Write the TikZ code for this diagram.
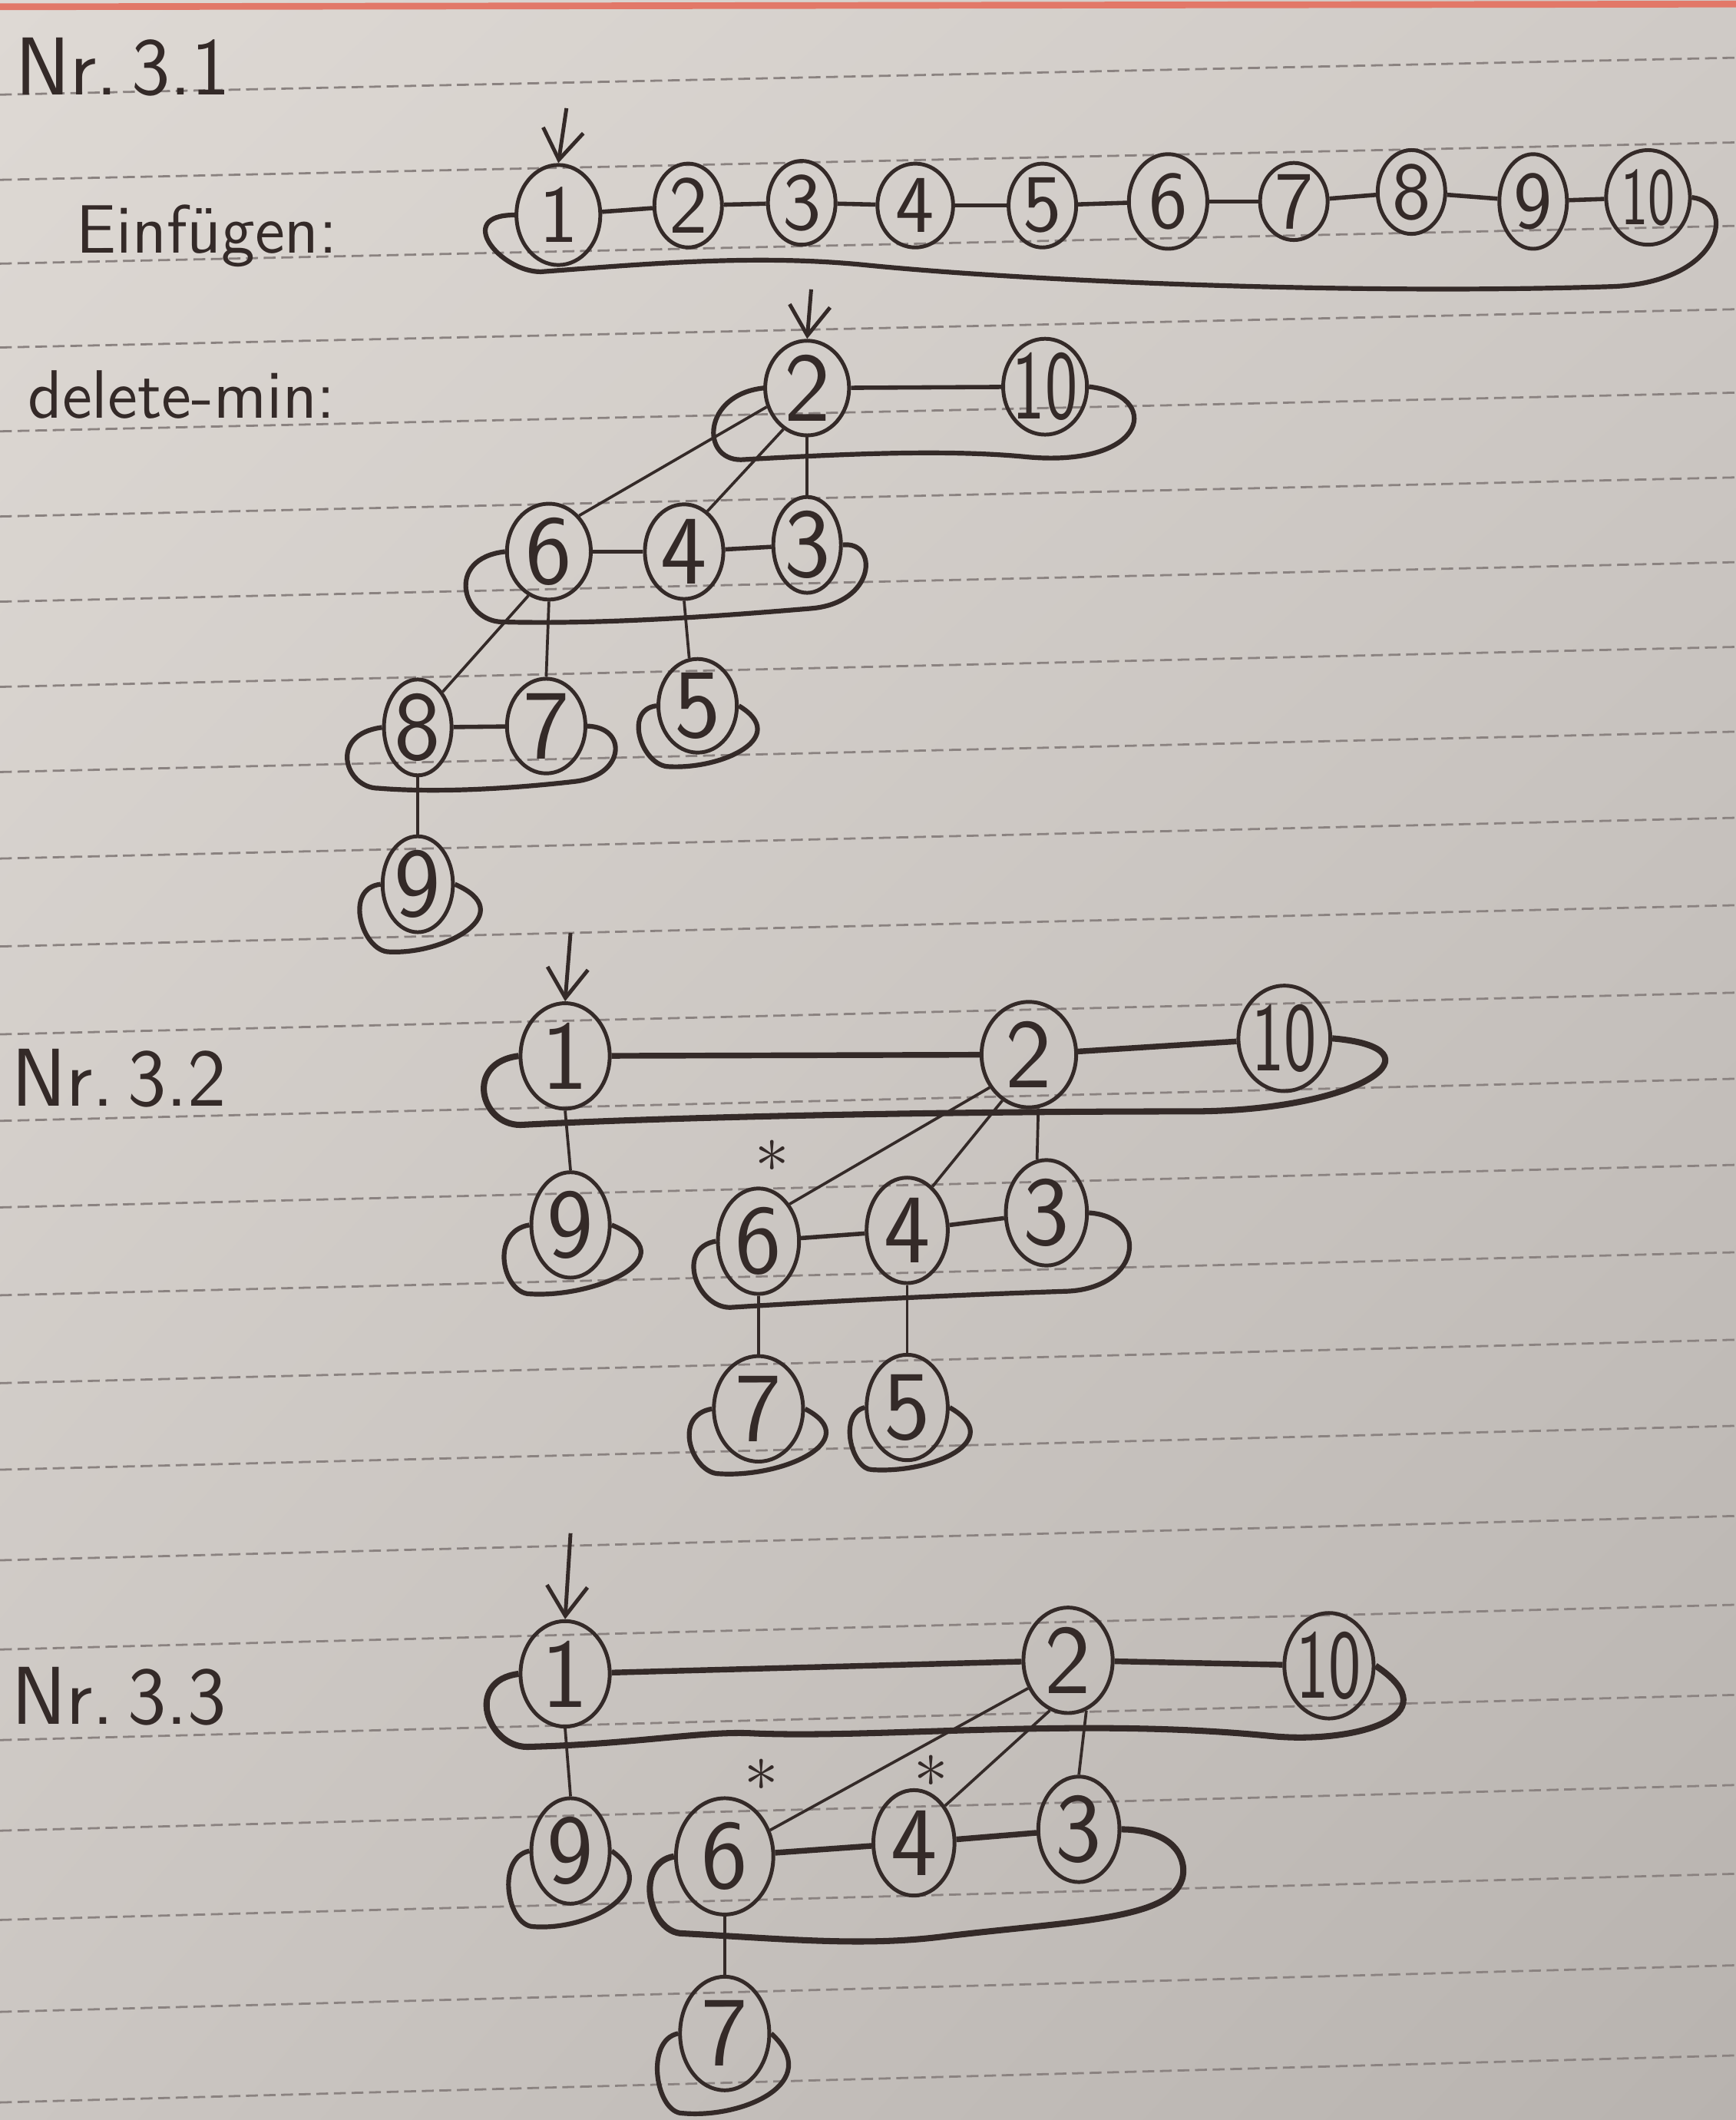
\documentclass[tikz,border=0pt]{standalone}
\usepackage{xcolor}
\usepackage{graphicx}
\usetikzlibrary{shapes.geometric,arrows.meta,shadings}

\definecolor{ink}{RGB}{52,42,40}
\definecolor{paperA}{RGB}{222,217,212}
\definecolor{paperB}{RGB}{207,202,198}
\definecolor{paperC}{RGB}{203,198,194}
\definecolor{paperD}{RGB}{184,179,175}
\definecolor{rule}{RGB}{138,130,128}
\definecolor{margin}{RGB}{226,120,104}

\tikzset{
  knot/.style={ellipse, draw=ink, line width=0.8pt, inner sep=0pt, minimum width=5.0mm, minimum height=6.2mm, font=\LARGE\sffamily, text=ink},
  knotb/.style={knot, minimum width=5.8mm, minimum height=7.0mm, font=\huge\sffamily},
  knotc/.style={knot, minimum width=6.6mm, minimum height=7.8mm, font=\huge\sffamily},
  ring/.style={draw=ink, line width=1pt, line join=round},
  ringb/.style={ring, line width=1.3pt},
  link/.style={draw=ink, line width=0.9pt},
  linkb/.style={draw=ink, line width=1.2pt},
  child/.style={draw=ink, line width=0.6pt},
  minptr/.style={draw=ink, line width=0.8pt, -{Straight Barb[length=2.2mm,width=3mm]}},
  hand/.style={text=ink, font=\Large\sffamily, inner sep=0pt},
  flag/.style={text=ink, font=\Large, inner sep=0pt}
}

\begin{document}
\begin{tikzpicture}[x=0.1mm, y=-0.1mm]
    % paper
    \shade[upper left=paperA, upper right=paperB, lower left=paperC, lower right=paperD] (0,0) rectangle (1284,1568);
    \useasboundingbox (0,0) rectangle (1284,1568);
    \draw[margin, line width=1.4pt] (0,5) -- (1284,3);
    \foreach \y in {70,133,195,257,319,382,445,508,571,635,700,765,829,893,958,1023,1087,1154,1220,1287,1354,1420,1488,1555}
        \draw[rule, line width=0.45pt, dash pattern=on 2.5pt off 1.2pt] (0,\y) -- (1284,{\y-27-0.005*\y});

    % Nr. 3.1
    \node[hand, font=\LARGE\sffamily, anchor=base west] (t1) at (11,70) {Nr.\,3.1};
    \node[hand, anchor=base west] (t2) at (56,187) {Einfügen:};
    \node[knot, minimum width=6.2mm, minimum height=7.4mm] (a1) at (413,159) {1};
    \node[knot] (a2) at (509,152) {2};
    \node[knot] (a3) at (593,150) {3};
    \node[knot, minimum width=5.6mm] (a4) at (677,152) {4};
    \node[knot] (a5) at (771,152) {5};
    \node[knot, minimum width=5.8mm, minimum height=7.0mm] (a6) at (864,149) {6};
    \node[knot, minimum height=5.4mm] (a7) at (957,149) {7};
    \node[knot] (a8) at (1044,142) {8};
    \node[knot, minimum height=7.0mm] (a9) at (1134,149) {9};
    \node[knot, inner xsep=-1mm, minimum width=6.2mm, minimum height=7.0mm] (a10) at (1219,146) {\scalebox{0.7}[1]{10}};
    \coordinate (p1) at (419,80);
    \draw[minptr] (p1) -- (a1.north);
    \draw[link] (a1) -- (a2);
    \draw[link] (a2) -- (a3);
    \draw[link] (a3) -- (a4);
    \draw[link] (a4) -- (a5);
    \draw[link] (a5) -- (a6);
    \draw[link] (a6) -- (a7);
    \draw[link] (a7) -- (a8);
    \draw[link] (a8) -- (a9);
    \draw[link] (a9) -- (a10);
    \draw[ring] (a1.west) .. controls +(-45,0) and +(-30,0) .. (400,201) .. controls (480,195) and (560,188) .. (640,196) .. controls (760,208) and (1000,218) .. (1190,212) .. controls (1275,210) and (1285,150) .. (a10.east);

    % delete-min
    \node[hand, anchor=base west] (t3) at (20,309) {delete-min:};
    \node[knotb, minimum width=6.2mm] (b2) at (597,287) {2};
    \node[knotb, inner xsep=-1mm, minimum width=6.2mm] (b10) at (773,286) {\scalebox{0.7}[1]{10}};
    \node[knotb, minimum width=6.2mm] (b6) at (406,408) {6};
    \node[knotb] (b4) at (506,408) {4};
    \node[knotb, minimum width=5.0mm, minimum height=6.2mm] (b3) at (597,403) {3};
    \node[knotb, minimum width=5.0mm] (b8) at (309,538) {8};
    \node[knotb] (b7) at (404,537) {7};
    \node[knotb, minimum height=6.6mm] (b5) at (516,522) {5};
    \node[knotb, minimum width=5.2mm] (b9) at (309,654) {9};
    \coordinate (p2) at (600,214);
    \draw[minptr] (p2) -- (b2.north);
    \draw[link] (b2) -- (b10);
    \draw[child] (b2.205) -- (b6.50);
    \draw[child] (b2.240) -- (b4.60);
    \draw[child] (b2.south) -- (b3.north);
    \draw[link] (b6) -- (b4);
    \draw[link] (b4) -- (b3);
    \draw[child] (b6.245) -- (b8.55);
    \draw[child] (b6.south) -- (b7.north);
    \draw[child] (b4.south) -- (b5.100);
    \draw[link] (b8) -- (b7);
    \draw[child] (b8.south) -- (b9.north);
    \draw[ring] (b2.west) .. controls +(-45,5) and +(-30,0) .. (548,340) .. controls (620,336) and (700,332) .. (760,338) .. controls (850,346) and (860,292) .. (b10.east);
    \draw[ring] (b6.west) .. controls +(-45,5) and +(-30,0) .. (372,460) .. controls (450,462) and (540,455) .. (600,450) .. controls (648,446) and (650,400) .. (b3.east);
    \draw[ring] (b8.west) .. controls +(-40,5) and +(-25,0) .. (280,583) .. controls (330,587) and (390,582) .. (425,578) .. controls (462,574) and (465,538) .. (b7.east);
    \draw[ring] (b5.west) .. controls +(-25,3) and +(-20,0) .. (495,567) .. controls (535,569) and (585,545) .. (b5.east);
    \draw[ring] (b9.west) .. controls +(-28,3) and +(-20,0) .. (288,704) .. controls (330,706) and (385,675) .. (b9.east);

    % Nr. 3.2
    \node[hand, font=\LARGE\sffamily, anchor=base west] (t4) at (8,818) {Nr.\,3.2};
    \node[knotc] (c1) at (418,781) {1};
    \node[knotc, minimum width=7.0mm] (c2) at (761,780) {2};
    \node[knotc, inner xsep=-1mm, minimum width=6.8mm] (c10) at (950,768) {\scalebox{0.7}[1]{10}};
    \node[knotc, minimum width=5.8mm] (c9) at (422,906) {9};
    \node[knotc, minimum width=6.0mm] (c6) at (561,918) {6};
    \node[knotc, minimum width=6.0mm] (c4) at (671,910) {4};
    \node[knotc, minimum width=6.0mm] (c3) at (774,897) {3};
    \node[knotc] (c7) at (561,1042) {7};
    \node[knotc, minimum width=6.0mm] (c5) at (671,1041) {5};
    \node[flag] (s1) at (571,855) {$\ast$};
    \coordinate (p3) at (422,690);
    \draw[minptr] (p3) -- (c1.north);
    \draw[linkb] (c1) -- (c2);
    \draw[linkb] (c2) -- (c10);
    \draw[child] (c1.south) -- (c9.north);
    \draw[child] (c2.220) -- (c6.50);
    \draw[child] (c2.240) -- (c4.60);
    \draw[child] (c2.280) -- (c3.100);
    \draw[link] (c6) -- (c4);
    \draw[link] (c4) -- (c3);
    \draw[child] (c6.south) -- (c7.north);
    \draw[child] (c4.south) -- (c5.north);
    \draw[ringb] (c1.west) .. controls +(-40,5) and +(-30,0) .. (385,832) .. controls (500,826) and (700,822) .. (880,822) .. controls (1010,822) and (1070,775) .. (c10.east);
    \draw[ring] (c9.west) .. controls +(-30,5) and +(-20,0) .. (392,957) .. controls (440,960) and (510,930) .. (c9.east);
    \draw[ring] (c6.west) .. controls +(-30,5) and +(-25,0) .. (540,967) .. controls (620,962) and (700,958) .. (790,955) .. controls (845,952) and (850,900) .. (c3.east);
    \draw[ring] (c7.west) .. controls +(-30,5) and +(-20,0) .. (532,1090) .. controls (580,1093) and (640,1065) .. (c7.east);
    \draw[ring] (c5.west) .. controls +(-20,5) and +(-15,0) .. (645,1087) .. controls (690,1090) and (745,1065) .. (c5.east);

    % Nr. 3.3
    \node[hand, font=\LARGE\sffamily, anchor=base west] (t5) at (8,1275) {Nr.\,3.3};
    \node[knotc] (d1) at (418,1238) {1};
    \node[knotc] (d2) at (790,1228) {2};
    \node[knotc, inner xsep=-1mm] (d10) at (983,1232) {\scalebox{0.7}[1]{10}};
    \node[knotc, minimum width=5.8mm] (d9) at (422,1369) {9};
    \node[knotc, minimum width=7.2mm, minimum height=8.6mm] (d6) at (536,1373) {6};
    \node[knotc, minimum width=6.0mm] (d4) at (676,1363) {4};
    \node[knotc, minimum width=6.0mm] (d3) at (798,1353) {3};
    \node[knotc, minimum height=8.4mm] (d7) at (536,1504) {7};
    \node[flag] (s2) at (563,1313) {$\ast$};
    \node[flag] (s3) at (689,1310) {$\ast$};
    \coordinate (p4) at (422,1134);
    \draw[minptr] (p4) -- (d1.north);
    \draw[linkb] (d1) -- (d2);
    \draw[linkb] (d2) -- (d10);
    \draw[child] (d1.south) -- (d9.north);
    \draw[child] (d2.215) -- (d6.30);
    \draw[child] (d2.250) -- (d4.50);
    \draw[child] (d2.290) -- (d3.north);
    \draw[linkb] (d6) -- (d4);
    \draw[linkb] (d4) -- (d3);
    \draw[child] (d6.south) -- (d7.north);
    \draw[ringb] (d1.west) .. controls +(-40,5) and +(-30,0) .. (390,1292) .. controls (470,1290) and (520,1280) .. (557,1282) .. controls (650,1286) and (800,1270) .. (940,1284) .. controls (1000,1290) and (1075,1270) .. (d10.east);
    \draw[ring] (d9.west) .. controls +(-25,5) and +(-20,0) .. (395,1425) .. controls (440,1428) and (490,1395) .. (d9.east);
    \draw[ringb] (d6.west) .. controls +(-30,5) and +(-25,0) .. (505,1430) .. controls (580,1434) and (640,1440) .. (700,1432) .. controls (800,1420) and (880,1420) .. (875,1380) .. controls (872,1360) and (850,1353) .. (d3.east);
    \draw[ring] (d7.west) .. controls +(-25,5) and +(-20,0) .. (505,1563) .. controls (550,1567) and (610,1540) .. (d7.east);
\end{tikzpicture}
\end{document}
